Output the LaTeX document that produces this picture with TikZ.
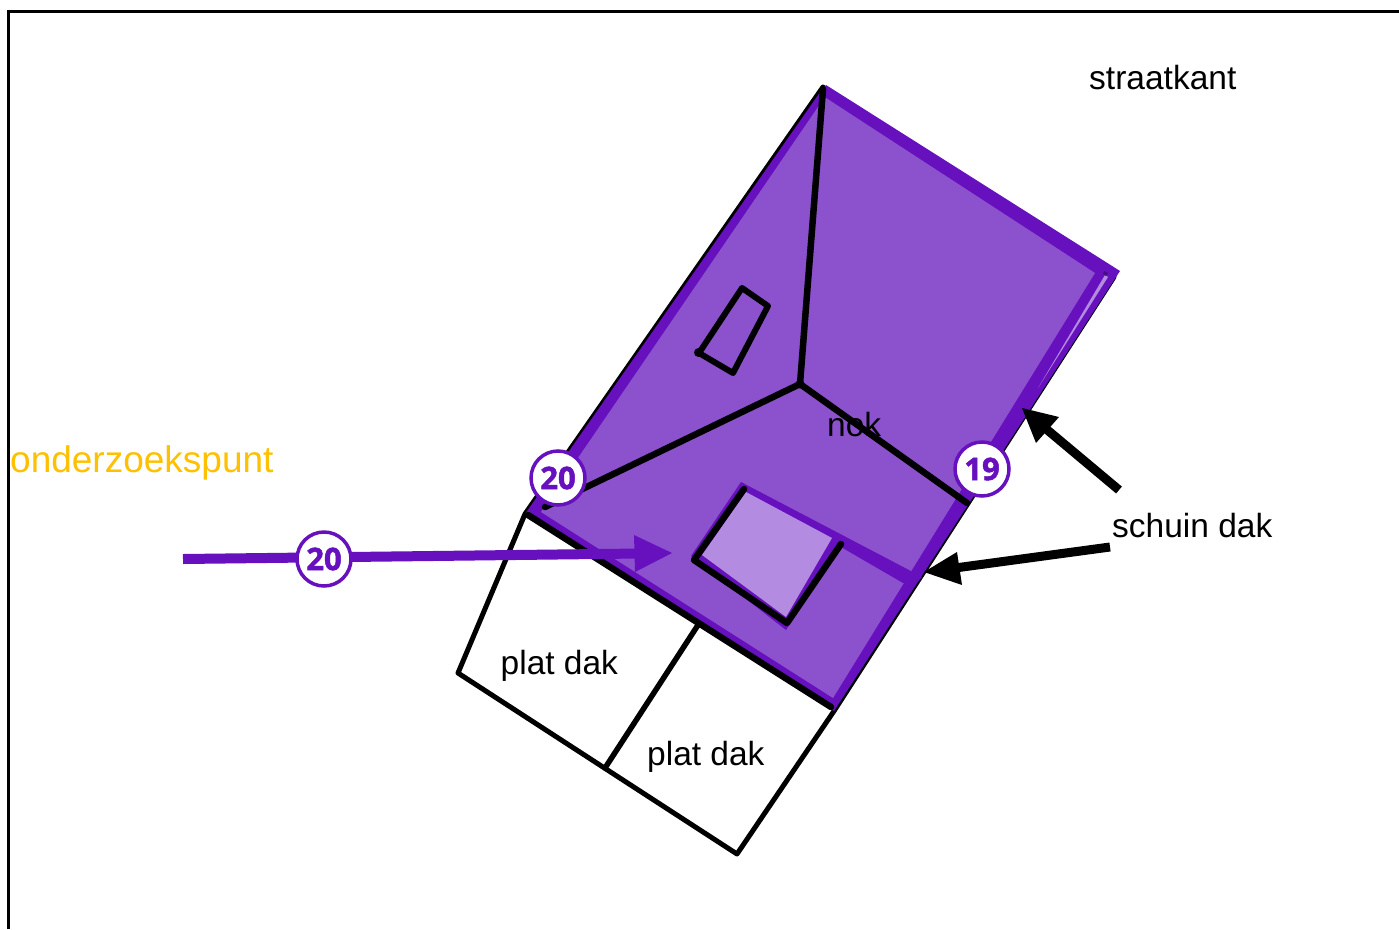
\documentclass[tikz,border=0pt]{standalone}
\usepackage{fontspec}
\setmainfont{Liberation Sans}
\newfontfamily\badgefont[BoldFeatures={FakeBold=1.6}]{Open Sans}
\definecolor{roof}{HTML}{8C52CE}
\definecolor{deep}{HTML}{6610BE}
\definecolor{lite}{HTML}{B38BE0}
\definecolor{gold}{HTML}{FFC000}
\tikzset{
  label text/.style={font=\fontsize{33.5}{36}\selectfont, text=black, inner sep=0pt, anchor=base west},
  badge/.style={circle, draw=deep, fill=white, line width=3.5pt, minimum size=54pt, inner sep=0pt,
    text=deep, font=\badgefont\bfseries\fontsize{31}{33}\selectfont},
  thick black/.style={draw=black, line width=6.5pt, line cap=round, line join=round},
  thin black/.style={draw=black, line width=5pt, line cap=round, line join=round},
  pointer/.style={draw=black, line width=9pt},
}
\begin{document}
\begin{tikzpicture}[x=1pt,y=-1pt]
\useasboundingbox (0,0) rectangle (1399,929);
\fill[white] (0,0) rectangle (1399,929);
% frame
\draw[black, line width=3.5pt] (8.5,929) -- (8.5,11.5) -- (1399,11.5);
% corner points
\coordinate (top) at (823,87);
\coordinate (right) at (1114,277);
\coordinate (bot) at (834,711);
\coordinate (left) at (525,514);
\coordinate (flatA) at (458,673);
\coordinate (flatB) at (737,854);
\coordinate (flatM) at (605,768);
\coordinate (flatT) at (698,625);
\coordinate (ridge) at (800,384);
\coordinate (ridgeL) at (545,507);
\coordinate (ridgeR) at (967,503);
% flat roofs and thin outline
\draw[thin black] (top) -- (left) -- (flatA) -- (flatB) -- (bot) -- (right);
% roof surface
\fill[deep] (826,85) -- (1120,271) -- (834,711) -- (525,514) -- (823,88) -- cycle;
\fill[roof] (818,107) -- (823,96) -- (1095,273) -- (833,698) -- (541,512) -- cycle;
% sliver along the right edge
\fill[lite] (1105,275) -- (1108,277) -- (1038,388) -- cycle;
\fill[deep!70!black] (1104,271) -- (1108,273) -- (1106,276) -- (1103,274) -- cycle;
% band and dormer
\fill[deep] (741,482) -- (909,570) -- (922,577) -- (912,587) -- (903,583) -- (748,493) -- cycle;
\fill[deep] (741,482) -- (691,556) -- (786,630) -- (841,545) -- (832,538) -- cycle;
\fill[lite] (746,492) -- (832,538) -- (786,617) -- (702,555) -- cycle;
% black edges
\draw[thick black] (528,515) -- (831,707);
\draw[thin black, line width=5.5pt] (flatT) -- (flatM);
\draw[thick black] (823,89) -- (ridge);
\draw[thick black] (ridge) -- (ridgeL);
\draw[thick black] (ridge) -- (ridgeR);
\fill[black] (ridge) circle (4.5pt);
\draw[thick black, line width=6pt] (742,288) -- (768,306) -- (733,373) -- (699,353) -- cycle;
\fill[black] (698.5,352.5) circle (4.5pt);
\draw[thick black] (744,489) -- (694,560) -- (787,623) -- (841,544);
% purple pointer
\coordinate (pstart) at (183,559);
\coordinate (ptip) at (672,553);
\draw[deep, line width=10pt] (pstart) -- (640,553.5);
\fill[deep] (ptip) -- (634,535) -- (635,572) -- cycle;
% black pointers
\coordinate (s1) at (1119,490);
\coordinate (s1tip) at (1022,408);
\coordinate (s2) at (1110,547);
\coordinate (s2tip) at (924,572);
\draw[pointer] (s1) -- (1045,428);
\fill[black] (s1tip) -- (1059,417) -- (1036,443) -- cycle;
\draw[pointer] (s2) -- (955,568);
\fill[black] (s2tip) -- (957,552) -- (962,585) -- cycle;
% texts
\node[label text] (straat) at (1089,89) {straatkant};
\node[label text] (schuin) at (1112,537) {schuin dak};
\node[label text] (plat1) at (500.5,674) {plat dak};
\node[label text] (plat2) at (647,765) {plat dak};
\node[label text] (nok) at (827,436) {nok};
\node[label text, text=gold, font=\fontsize{37}{39}\selectfont] (onder) at (10,472) {onderzoekspunt};
% badges
\node[badge] (b20a) at (558,478) {20};
\node[badge] (b19) at (982,469) {19};
\node[badge] (b20b) at (324,559) {20};
\end{tikzpicture}
\end{document}
